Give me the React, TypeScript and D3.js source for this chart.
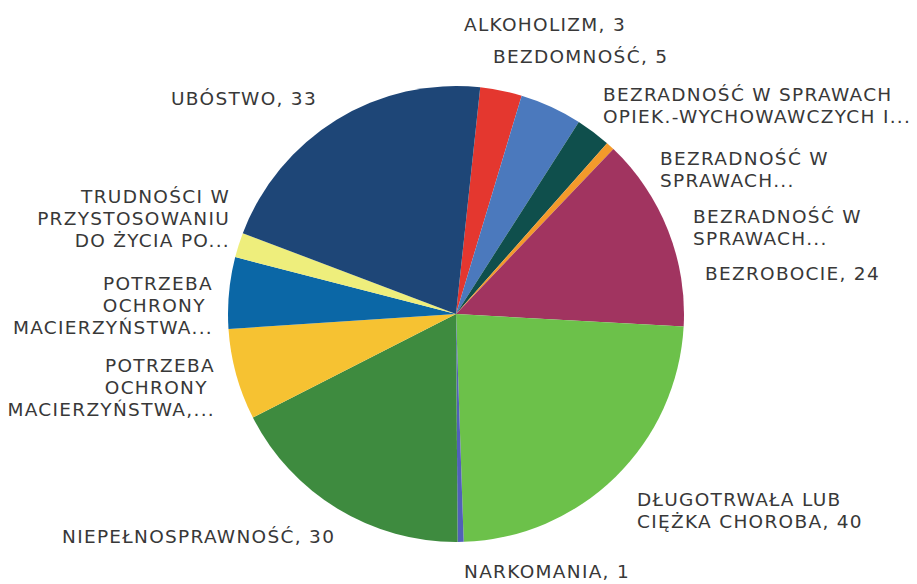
import React from "react";
import * as d3 from "d3";

// Category names as shown in the chart (wrapped lines, truncated like the original)
const categories: string[][] = [
  ["ALKOHOLIZM"],
  ["BEZDOMNOŚĆ"],
  ["BEZRADNOŚĆ W SPRAWACH", "OPIEK.-WYCHOWAWCZYCH I..."],
  ["BEZRADNOŚĆ W", "SPRAWACH..."],
  ["BEZRADNOŚĆ W", "SPRAWACH..."],
  ["BEZROBOCIE"],
  ["DŁUGOTRWAŁA LUB", "CIĘŻKA CHOROBA"],
  ["NARKOMANIA"],
  ["NIEPEŁNOSPRAWNOŚĆ"],
  ["POTRZEBA", "OCHRONY\u00A0", "MACIERZYŃSTWA,..."],
  ["POTRZEBA", "OCHRONY\u00A0", "MACIERZYŃSTWA..."],
  ["TRUDNOŚCI W", "PRZYSTOSOWANIU", "DO ŻYCIA PO..."],
  ["UBÓSTWO"],
];

// Numbers printed in the data labels (null where the label is truncated)
const shownNumbers: (number | null)[] = [3, 5, null, null, null, 24, 40, 1, 30, null, null, null, 33];

// Slice sizes
const values: number[] = [4.9, 7.3, 4.1, 1.0, 0, 22.8, 39.1, 0.7, 29.2, 10.7, 8.4, 2.9, 34.7];

const colors: string[] = [
  "#e4372f",
  "#4b79bd",
  "#0f4f4c",
  "#f39a2b",
  "#7f7f7f",
  "#a13460",
  "#6cc14a",
  "#5160b8",
  "#3e8b3f",
  "#f6c232",
  "#0b67a6",
  "#eeee7c",
  "#1e4677",
];

// Label placement (layout, not data)
const labelLayout: { x: number; y: number; anchor: "start" | "end" }[] = [
  { x: 464, y: 31, anchor: "start" },
  { x: 493, y: 63, anchor: "start" },
  { x: 603, y: 101, anchor: "start" },
  { x: 660, y: 165, anchor: "start" },
  { x: 693, y: 223, anchor: "start" },
  { x: 705, y: 280, anchor: "start" },
  { x: 637, y: 506, anchor: "start" },
  { x: 464, y: 578, anchor: "start" },
  { x: 62, y: 543, anchor: "start" },
  { x: 215, y: 372, anchor: "end" },
  { x: 213, y: 290, anchor: "end" },
  { x: 230, y: 203, anchor: "end" },
  { x: 317, y: 105, anchor: "end" },
];

const W = 917;
const H = 584;
const CX = 456;
const CY = 314;
const R = 228;
const START_DEG = 6.1;
const LINE_H = 22;

export default function App() {
  const start = (START_DEG * Math.PI) / 180;
  const pie = d3
    .pie<number>()
    .sort(null)
    .value((d) => d)
    .startAngle(start)
    .endAngle(start + 2 * Math.PI);
  const arcs = pie(values);
  const arc = d3.arc<d3.PieArcDatum<number>>().innerRadius(0).outerRadius(R);

  return (
    <svg
      width={W}
      height={H}
      viewBox={`0 0 ${W} ${H}`}
      style={{ position: "absolute", left: 0, top: 0, background: "#ffffff" }}
    >
      <g transform={`translate(${CX},${CY})`}>
        {arcs.map((a, i) => (
          <path key={i} d={arc(a) || ""} fill={colors[i]} />
        ))}
      </g>
      <g
        fontFamily="'DejaVu Sans', sans-serif"
        fontSize={18.5}
        fill="#383838"
        letterSpacing={1.3}
      >
        {categories.map((lines, i) => {
          const L = labelLayout[i];
          const num = shownNumbers[i];
          const texts = lines.map((t, j) =>
            j === lines.length - 1 && num !== null ? `${t}, ${num}` : t
          );
          return (
            <text key={i} x={L.x} y={L.y} textAnchor={L.anchor} style={{ whiteSpace: "pre" }}>
              {texts.map((t, j) => (
                <tspan key={j} x={L.x} y={L.y + j * LINE_H}>
                  {t}
                </tspan>
              ))}
            </text>
          );
        })}
      </g>
    </svg>
  );
}
